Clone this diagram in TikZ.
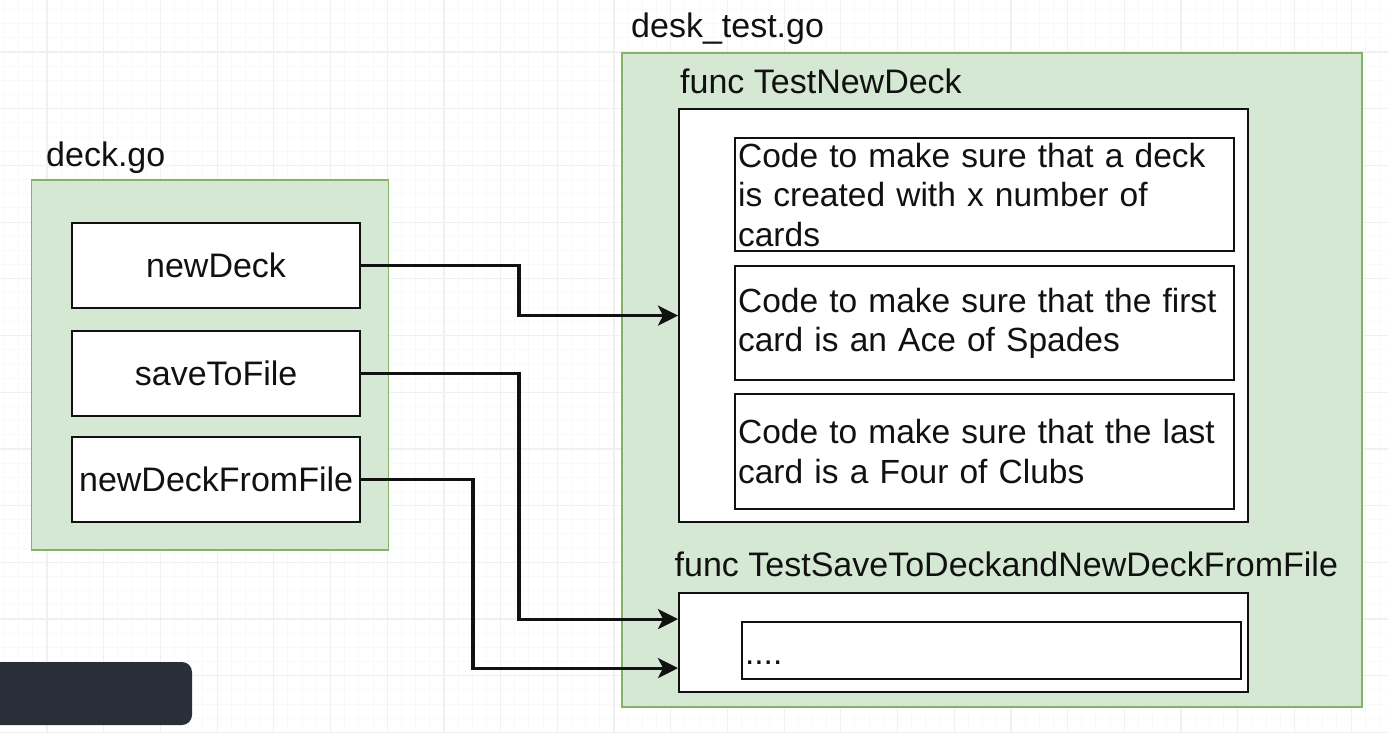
\documentclass[tikz,border=0pt]{standalone}
\usepackage{fontspec}
\setmainfont{Liberation Sans}
\usetikzlibrary{arrows.meta}
\definecolor{gfill}{HTML}{D5E8D4}
\definecolor{gline}{HTML}{82B366}
\definecolor{gridmaj}{RGB}{240,240,240}
\definecolor{gridmin}{RGB}{249,249,249}
\definecolor{darkbar}{RGB}{41,46,56}
\definecolor{ink}{RGB}{17,17,17}
\newcommand\dfs{\fontsize{34pt}{39.5pt}\selectfont}
\newcommand\cfs{\fontsize{33.5pt}{39.5pt}\selectfont}
\begin{document}
\begin{tikzpicture}[x=1pt,y=-1pt,
  gbox/.style={draw=gline, fill=gfill, line width=1.5pt, anchor=north west, inner sep=0pt},
  wbox/.style={draw=ink, fill=white, line width=2.2pt, anchor=north west, inner sep=0pt, font=\dfs, text=ink},
  cbox/.style={wbox, text width=493pt, align=left, inner xsep=3pt, inner ysep=0pt, font=\cfs},
  lbl/.style={anchor=base west, inner sep=0pt, font=\dfs, text=ink},
  arr/.style={draw=ink, line width=3.2pt, -{Stealth[length=20pt, width=20pt, inset=5pt]}},
]
\useasboundingbox (0,0) rectangle (1388,732);
\clip (0,0) rectangle (1388,732);
\fill[white] (0,0) rectangle (1388,732);
% grid
\foreach \k in {-3,...,94} \draw[line width=1pt, gridmin] ({47+14.175*\k},0) -- ({47+14.175*\k},732);
\foreach \k in {-3,...,47} \draw[line width=1pt, gridmin] (0,{52+14.175*\k}) -- (1388,{52+14.175*\k});
\foreach \k in {-1,...,23} \draw[line width=1.2pt, gridmaj] ({47+56.7*\k},0) -- ({47+56.7*\k},732);
\foreach \k in {-1,...,12} \draw[line width=1.2pt, gridmaj] (0,{52+56.7*\k}) -- (1388,{52+56.7*\k});

% deck.go
\node[lbl] (ldeck) at (46,166) {deck.go};
\node[gbox, minimum width=357pt, minimum height=370pt] (deck) at (30.5,179) {};
\node[wbox, minimum width=288pt, minimum height=85pt] (nd) at (71,222) {newDeck};
\node[wbox, minimum width=288pt, minimum height=85pt] (stf) at (71,330) {saveToFile};
\node[wbox, minimum width=288pt, minimum height=85pt] (ndf) at (71,436) {newDeckFromFile};

% desk_test.go
\node[lbl] (ltest) at (631,37) {desk\_test.go};
\node[gbox, minimum width=740pt, minimum height=654pt] (test) at (621,52) {};
\node[lbl] (ltnd) at (680,93) {func TestNewDeck};
\node[wbox, minimum width=569pt, minimum height=413pt] (tnd) at (678,108) {};
\node[cbox, minimum width=499pt, minimum height=113pt] (c1) at (734,137)
  {Code to make sure that a deck\\is created with x number of\\cards};
\node[cbox, minimum width=499pt, minimum height=114pt] (c2) at (734,265)
  {Code to make sure that the first\\card is an Ace of Spades};
\node[cbox, minimum width=499pt, minimum height=115pt] (c3) at (734,393)
  {Code to make sure that the last\\card is a Four of Clubs};
\node[lbl] (ltsv) at (674.5,576) {func TestSaveToDeckandNewDeckFromFile};
\node[wbox, minimum width=569pt, minimum height=99pt] (tsv) at (678,592) {};
\node[cbox, minimum width=499pt, minimum height=57pt, text height=27pt, text depth=0pt] (dots) at (741,621) {....};

% bottom-left bar
\fill[darkbar, rounded corners=10pt] (-20,662) rectangle (192,725);

% connectors
\coordinate (j1) at (519,0);
\coordinate (j3) at (473,0);
\coordinate (e2) at ([yshift=23.5pt]tsv.west);
\coordinate (e3) at ([yshift=-25.5pt]tsv.west);
\draw[arr] (nd.east) -- (nd.east -| j1) |- (tnd.west);
\draw[arr] (stf.east) -- (stf.east -| j1) |- (e2);
\draw[arr] (ndf.east) -- (ndf.east -| j3) |- (e3);
\end{tikzpicture}
\end{document}
